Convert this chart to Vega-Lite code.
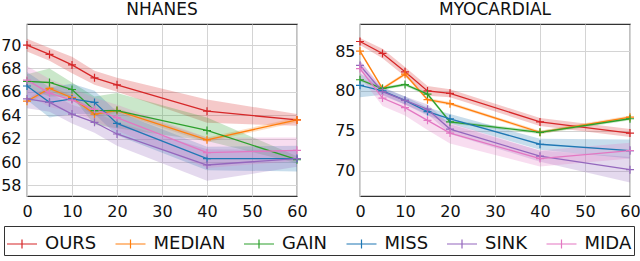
{
  "$schema": "https://vega.github.io/schema/vega-lite/v6.json",
  "padding": {"left": 0, "top": 0, "right": 2, "bottom": 0},
  "background": "white",
  "config": {
    "font": "DejaVu Sans",
    "view": {"stroke": "#333333", "strokeWidth": 1.2},
    "axis": {"labelFontSize": 16, "labelColor": "#111111", "domain": false, "ticks": false, "gridColor": "#d4d4d4", "gridWidth": 1, "title": null, "labelPadding": 6, "labelOverlap": false, "labelFlush": false},
    "axisX": {"labelPadding": 7},
    "title": {"fontSize": 17, "fontWeight": "normal", "offset": 5, "color": "#111111"},
    "legend": {"orient": "none", "legendX": -23, "legendY": 202, "direction": "horizontal", "title": null, "labelFontSize": 18, "labelColor": "#111111", "strokeColor": "#333333", "padding": 2, "columnPadding": 15.5, "symbolStrokeWidth": 1.2, "symbolOpacity": 1}
  },
  "data": {"values": [
    {"d":"NHANES","m":"OURS","x":0,"y":70.0,"lo":69.45,"hi":70.55},
    {"d":"NHANES","m":"OURS","x":5,"y":69.2,"lo":68.65,"hi":69.75},
    {"d":"NHANES","m":"OURS","x":10,"y":68.3,"lo":67.6,"hi":69.0},
    {"d":"NHANES","m":"OURS","x":15,"y":67.2,"lo":66.6,"hi":67.8},
    {"d":"NHANES","m":"OURS","x":20,"y":66.6,"lo":66.0,"hi":67.2},
    {"d":"NHANES","m":"OURS","x":40,"y":64.35,"lo":63.35,"hi":65.35},
    {"d":"NHANES","m":"OURS","x":60,"y":63.6,"lo":63.1,"hi":64.1},
    {"d":"NHANES","m":"MEDIAN","x":0,"y":65.2,"lo":65.0,"hi":65.4},
    {"d":"NHANES","m":"MEDIAN","x":5,"y":66.3,"lo":66.1,"hi":66.5},
    {"d":"NHANES","m":"MEDIAN","x":10,"y":65.5,"lo":65.3,"hi":65.7},
    {"d":"NHANES","m":"MEDIAN","x":15,"y":64.1,"lo":63.9,"hi":64.3},
    {"d":"NHANES","m":"MEDIAN","x":20,"y":64.4,"lo":64.2,"hi":64.6},
    {"d":"NHANES","m":"MEDIAN","x":40,"y":61.9,"lo":61.7,"hi":62.1},
    {"d":"NHANES","m":"MEDIAN","x":60,"y":63.6,"lo":63.4,"hi":63.8},
    {"d":"NHANES","m":"GAIN","x":0,"y":66.9,"lo":66.3,"hi":67.5},
    {"d":"NHANES","m":"GAIN","x":5,"y":66.8,"lo":65.6,"hi":68.0},
    {"d":"NHANES","m":"GAIN","x":10,"y":66.2,"lo":65.6,"hi":66.8},
    {"d":"NHANES","m":"GAIN","x":15,"y":64.4,"lo":63.2,"hi":65.6},
    {"d":"NHANES","m":"GAIN","x":20,"y":64.4,"lo":62.9,"hi":65.9},
    {"d":"NHANES","m":"GAIN","x":40,"y":62.7,"lo":61.8,"hi":63.8},
    {"d":"NHANES","m":"GAIN","x":60,"y":60.2,"lo":59.9,"hi":60.5},
    {"d":"NHANES","m":"MISS","x":0,"y":66.5,"lo":65.3,"hi":67.7},
    {"d":"NHANES","m":"MISS","x":5,"y":65.1,"lo":63.8,"hi":66.4},
    {"d":"NHANES","m":"MISS","x":10,"y":65.4,"lo":64.1,"hi":66.7},
    {"d":"NHANES","m":"MISS","x":15,"y":65.1,"lo":64.1,"hi":66.1},
    {"d":"NHANES","m":"MISS","x":20,"y":63.3,"lo":62.3,"hi":64.3},
    {"d":"NHANES","m":"MISS","x":40,"y":60.3,"lo":59.3,"hi":61.3},
    {"d":"NHANES","m":"MISS","x":60,"y":60.3,"lo":59.2,"hi":61.4},
    {"d":"NHANES","m":"SINK","x":0,"y":65.4,"lo":64.6,"hi":66.2},
    {"d":"NHANES","m":"SINK","x":5,"y":65.1,"lo":64.3,"hi":65.9},
    {"d":"NHANES","m":"SINK","x":10,"y":64.1,"lo":63.3,"hi":64.9},
    {"d":"NHANES","m":"SINK","x":15,"y":63.4,"lo":62.5,"hi":64.3},
    {"d":"NHANES","m":"SINK","x":20,"y":62.4,"lo":61.4,"hi":63.4},
    {"d":"NHANES","m":"SINK","x":40,"y":59.75,"lo":58.4,"hi":61.1},
    {"d":"NHANES","m":"SINK","x":60,"y":60.3,"lo":59.6,"hi":61.0},
    {"d":"NHANES","m":"MIDA","x":0,"y":67.0,"lo":65.8,"hi":68.2},
    {"d":"NHANES","m":"MIDA","x":5,"y":65.9,"lo":64.7,"hi":67.1},
    {"d":"NHANES","m":"MIDA","x":10,"y":65.3,"lo":64.3,"hi":66.3},
    {"d":"NHANES","m":"MIDA","x":15,"y":64.5,"lo":63.5,"hi":65.5},
    {"d":"NHANES","m":"MIDA","x":20,"y":63.8,"lo":62.7,"hi":64.9},
    {"d":"NHANES","m":"MIDA","x":40,"y":60.8,"lo":59.5,"hi":62.1},
    {"d":"NHANES","m":"MIDA","x":60,"y":61.0,"lo":60.1,"hi":62.1},
    {"d":"MYOCARDIAL","m":"OURS","x":0,"y":86.2,"lo":85.75,"hi":86.65},
    {"d":"MYOCARDIAL","m":"OURS","x":5,"y":84.7,"lo":84.1,"hi":85.3},
    {"d":"MYOCARDIAL","m":"OURS","x":10,"y":82.4,"lo":81.8,"hi":83.0},
    {"d":"MYOCARDIAL","m":"OURS","x":15,"y":80.0,"lo":79.4,"hi":80.6},
    {"d":"MYOCARDIAL","m":"OURS","x":20,"y":79.7,"lo":79.2,"hi":80.2},
    {"d":"MYOCARDIAL","m":"OURS","x":40,"y":76.1,"lo":75.6,"hi":76.6},
    {"d":"MYOCARDIAL","m":"OURS","x":60,"y":74.7,"lo":74.2,"hi":75.2},
    {"d":"MYOCARDIAL","m":"MEDIAN","x":0,"y":85.0,"lo":84.8,"hi":85.2},
    {"d":"MYOCARDIAL","m":"MEDIAN","x":5,"y":80.3,"lo":80.1,"hi":80.5},
    {"d":"MYOCARDIAL","m":"MEDIAN","x":10,"y":82.1,"lo":81.9,"hi":82.3},
    {"d":"MYOCARDIAL","m":"MEDIAN","x":15,"y":78.9,"lo":78.7,"hi":79.1},
    {"d":"MYOCARDIAL","m":"MEDIAN","x":20,"y":78.4,"lo":78.2,"hi":78.6},
    {"d":"MYOCARDIAL","m":"MEDIAN","x":40,"y":74.8,"lo":74.6,"hi":75.0},
    {"d":"MYOCARDIAL","m":"MEDIAN","x":60,"y":76.7,"lo":76.5,"hi":76.9},
    {"d":"MYOCARDIAL","m":"GAIN","x":0,"y":81.4,"lo":81.2,"hi":81.6},
    {"d":"MYOCARDIAL","m":"GAIN","x":5,"y":80.3,"lo":80.1,"hi":80.5},
    {"d":"MYOCARDIAL","m":"GAIN","x":10,"y":80.8,"lo":80.6,"hi":81.0},
    {"d":"MYOCARDIAL","m":"GAIN","x":15,"y":79.6,"lo":79.4,"hi":79.8},
    {"d":"MYOCARDIAL","m":"GAIN","x":20,"y":76.1,"lo":75.9,"hi":76.3},
    {"d":"MYOCARDIAL","m":"GAIN","x":40,"y":74.8,"lo":74.6,"hi":75.0},
    {"d":"MYOCARDIAL","m":"GAIN","x":60,"y":76.5,"lo":76.3,"hi":76.7},
    {"d":"MYOCARDIAL","m":"MISS","x":0,"y":80.7,"lo":79.2,"hi":82.2},
    {"d":"MYOCARDIAL","m":"MISS","x":5,"y":80.0,"lo":79.5,"hi":80.5},
    {"d":"MYOCARDIAL","m":"MISS","x":10,"y":78.8,"lo":78.3,"hi":79.3},
    {"d":"MYOCARDIAL","m":"MISS","x":15,"y":77.4,"lo":76.9,"hi":77.9},
    {"d":"MYOCARDIAL","m":"MISS","x":20,"y":76.5,"lo":75.9,"hi":77.1},
    {"d":"MYOCARDIAL","m":"MISS","x":40,"y":73.3,"lo":72.6,"hi":74.0},
    {"d":"MYOCARDIAL","m":"MISS","x":60,"y":72.5,"lo":71.5,"hi":73.9},
    {"d":"MYOCARDIAL","m":"SINK","x":0,"y":83.2,"lo":82.6,"hi":83.8},
    {"d":"MYOCARDIAL","m":"SINK","x":5,"y":79.9,"lo":79.4,"hi":80.4},
    {"d":"MYOCARDIAL","m":"SINK","x":10,"y":78.8,"lo":78.3,"hi":79.3},
    {"d":"MYOCARDIAL","m":"SINK","x":15,"y":77.7,"lo":77.1,"hi":78.3},
    {"d":"MYOCARDIAL","m":"SINK","x":20,"y":75.2,"lo":74.6,"hi":75.8},
    {"d":"MYOCARDIAL","m":"SINK","x":40,"y":71.8,"lo":71.1,"hi":72.5},
    {"d":"MYOCARDIAL","m":"SINK","x":60,"y":70.1,"lo":68.5,"hi":71.7},
    {"d":"MYOCARDIAL","m":"MIDA","x":0,"y":82.8,"lo":81.8,"hi":83.8},
    {"d":"MYOCARDIAL","m":"MIDA","x":5,"y":79.1,"lo":78.1,"hi":80.1},
    {"d":"MYOCARDIAL","m":"MIDA","x":10,"y":77.9,"lo":76.9,"hi":78.9},
    {"d":"MYOCARDIAL","m":"MIDA","x":15,"y":76.3,"lo":75.1,"hi":77.5},
    {"d":"MYOCARDIAL","m":"MIDA","x":20,"y":74.7,"lo":73.4,"hi":76.0},
    {"d":"MYOCARDIAL","m":"MIDA","x":40,"y":71.5,"lo":70.5,"hi":72.5},
    {"d":"MYOCARDIAL","m":"MIDA","x":60,"y":72.5,"lo":71.5,"hi":73.5}
  ]},
  "resolve": {"scale": {"y": "independent"}},
  "spacing": 26,
  "hconcat": [
    {
      "title": "NHANES",
      "width": 270, "height": 172,
      "transform": [{"filter": "datum.d === 'NHANES'"}],
      "encoding": {
        "x": {"field": "x", "type": "quantitative", "scale": {"domain": [0, 60], "nice": false}, "axis": {"values": [0,10,20,30,40,50,60]}},
        "color": {"field": "m", "type": "nominal", "scale": {"domain": ["OURS","MEDIAN","GAIN","MISS","SINK","MIDA"], "range": ["#d62728","#ff7f0e","#2ca02c","#1f77b4","#9467bd","#e377c2"]}, "legend": {"symbolType": "M-1,0L1,0M0,-0.3L0,0.3", "symbolSize": 900, "columns": 6, "labelOffset": 7}},
        "detail": {"field": "m"}
      },
      "layer": [
        {"mark": {"type": "area", "opacity": 0.25}, "encoding": {"y": {"field": "lo", "type": "quantitative", "scale": {"domain": [57.1, 71.8], "nice": false, "zero": false}, "axis": {"values": [58,60,62,64,66,68,70]}}, "y2": {"field": "hi"}}},
        {"mark": {"type": "line", "strokeWidth": 1.3}, "encoding": {"y": {"field": "y", "type": "quantitative", "scale": {"domain": [57.1, 71.8], "nice": false, "zero": false}, "axis": {"values": [58,60,62,64,66,68,70]}}}},
        {"mark": {"type": "point", "shape": "M-1,0L1,0M0,-1L0,1", "filled": false, "size": 64, "strokeWidth": 1.2, "opacity": 1}, "encoding": {"y": {"field": "y", "type": "quantitative", "scale": {"domain": [57.1, 71.8], "nice": false, "zero": false}, "axis": {"values": [58,60,62,64,66,68,70]}}}}
      ]
    },
    {
      "title": "MYOCARDIAL",
      "width": 270, "height": 172,
      "transform": [{"filter": "datum.d === 'MYOCARDIAL'"}],
      "encoding": {
        "x": {"field": "x", "type": "quantitative", "scale": {"domain": [0, 60], "nice": false}, "axis": {"values": [0,10,20,30,40,50,60]}},
        "color": {"field": "m", "type": "nominal"},
        "detail": {"field": "m"}
      },
      "layer": [
        {"mark": {"type": "area", "opacity": 0.25}, "encoding": {"y": {"field": "lo", "type": "quantitative", "scale": {"domain": [66.8, 88.4], "nice": false, "zero": false}, "axis": {"values": [70,75,80,85], "labelPadding": 5}}, "y2": {"field": "hi"}}},
        {"mark": {"type": "line", "strokeWidth": 1.3}, "encoding": {"y": {"field": "y", "type": "quantitative", "scale": {"domain": [66.8, 88.4], "nice": false, "zero": false}, "axis": {"values": [70,75,80,85], "labelPadding": 5}}}},
        {"mark": {"type": "point", "shape": "M-1,0L1,0M0,-1L0,1", "filled": false, "size": 64, "strokeWidth": 1.2, "opacity": 1}, "encoding": {"y": {"field": "y", "type": "quantitative", "scale": {"domain": [66.8, 88.4], "nice": false, "zero": false}, "axis": {"values": [70,75,80,85], "labelPadding": 5}}}}
      ]
    }
  ]
}
